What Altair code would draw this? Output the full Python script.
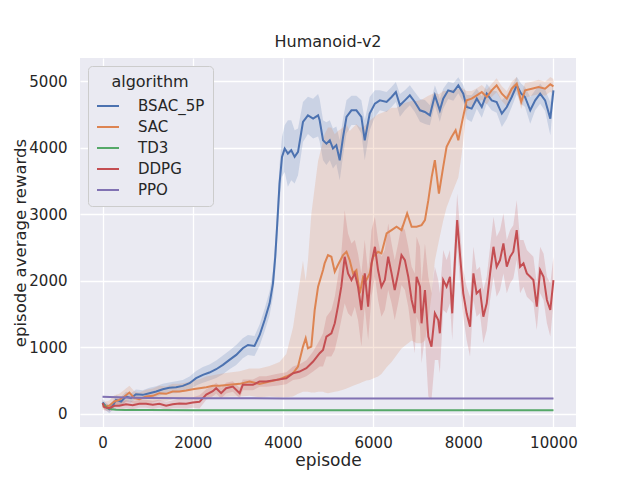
import altair as alt
import pandas as pd

algorithms = ["BSAC_5P", "SAC", "TD3", "DDPG", "PPO"]
colors = ["#4C72B0", "#DD8452", "#55A868", "#C44E52", "#8172B3"]

x_ticks = [0, 2000, 4000, 6000, 8000, 10000]
y_ticks = [0, 1000, 2000, 3000, 4000, 5000]

# ---- BSAC_5P (blue) ----
bsac_ep = [0, 75, 150, 225, 300, 410, 520, 630, 740, 890, 1040, 1190, 1335, 1480, 1630, 1780,
           1930, 2075, 2225, 2370, 2520, 2670, 2815, 2965, 3110, 3225, 3370, 3485, 3595, 3705,
           3780, 3830, 3875, 3925, 3980, 4040, 4110, 4185, 4260, 4335, 4445, 4555, 4670, 4780,
           4815, 4890, 4965, 5040, 5110, 5185, 5260, 5335, 5410, 5520, 5630, 5740, 5815, 5925,
           6040, 6150, 6300, 6410, 6505, 6595, 6705, 6815, 6925, 7040, 7150, 7260, 7370, 7480,
           7555, 7665, 7780, 7890, 8000, 8075, 8185, 8300, 8410, 8520, 8630, 8740, 8855, 8965,
           9075, 9185, 9285, 9370, 9485, 9595, 9705, 9815, 9930, 10000]
bsac_mean = [170, 110, 70, 120, 210, 185, 260, 235, 295, 285, 310, 335, 370, 390, 400, 420,
             460, 535, 585, 620, 670, 735, 810, 885, 985, 1035, 1020, 1185, 1410, 1660,
             1960, 2360, 2860, 3460, 3860, 3985, 3910, 3960, 3860, 3935, 4385, 4485, 4435, 4485,
             4410, 4110, 4060, 4110, 3985, 4035, 3810, 4160, 4460, 4560, 4560, 4460, 4110, 4510,
             4660, 4710, 4685, 4760, 4835, 4635, 4710, 4785, 4685, 4560, 4535, 4485, 4785, 4560,
             4735, 4860, 4835, 4935, 4810, 4610, 4585, 4735, 4610, 4810, 4710, 4685, 4510, 4610,
             4760, 4935, 4810, 4760, 4560, 4710, 4810, 4710, 4435, 4860]
bsac_spread = [60, 60, 60, 60, 70, 70, 70, 70, 70, 70, 80, 80, 80, 80, 90, 90,
               100, 110, 120, 120, 130, 140, 140, 150, 150, 150, 150, 160, 170, 180,
               200, 220, 250, 280, 300, 350, 500, 450, 400, 350, 300, 280, 300, 320,
               320, 300, 320, 300, 300, 280, 300, 280, 250, 220, 220, 250, 300, 250,
               200, 150, 150, 150, 150, 170, 150, 150, 150, 170, 180, 150, 150, 170,
               150, 130, 130, 120, 130, 180, 200, 150, 160, 150, 150, 160, 200, 180,
               150, 130, 150, 150, 200, 150, 150, 160, 250, 150]

# ---- SAC (orange) ----
sac_ep = [0, 150, 260, 370, 485, 595, 705, 815, 965, 1115, 1260, 1410, 1555, 1705, 1855, 2000,
          2150, 2300, 2450, 2595, 2815, 3040, 3260, 3480, 3705, 3925, 4075, 4225, 4335, 4445,
          4505, 4555, 4630, 4705, 4780, 4890, 4925, 5000, 5075, 5150, 5220, 5335, 5410, 5480,
          5555, 5630, 5705, 5780, 5850, 5925, 6000, 6110, 6185, 6300, 6410, 6520, 6630, 6755,
          6855, 6965, 7075, 7150, 7225, 7300, 7370, 7460, 7555, 7630, 7740, 7830, 7890, 7965,
          8075, 8185, 8300, 8410, 8520, 8630, 8740, 8855, 8965, 9075, 9185, 9285, 9370, 9520,
          9670, 9815, 9930, 10000]
sac_mean = [110, 120, 185, 210, 260, 320, 235, 220, 260, 270, 310, 300, 335, 335, 350, 370,
            385, 400, 420, 420, 435, 450, 485, 450, 485, 520, 560, 610, 710, 1010,
            1135, 985, 1010, 1560, 1910, 2160, 2260, 2385, 2360, 2135, 2235, 2385, 2435, 2310,
            2110, 2160, 1810, 2060, 2010, 2110, 2360, 2435, 2410, 2710, 2760, 2810, 2760, 3010,
            2810, 2810, 2835, 2910, 3210, 3560, 3810, 3310, 3710, 4010, 4160, 4260, 4110, 4360,
            4710, 4735, 4785, 4835, 4760, 4860, 4935, 4810, 4735, 4885, 4960, 4685, 4860, 4885,
            4910, 4885, 4950, 4920]
sac_lo = [60, 60, 100, 120, 160, 200, 140, 130, 160, 170, 200, 190, 220, 220, 230, 240,
          250, 250, 260, 250, 260, 260, 270, 250, 260, 250, 250, 260, 300, 330,
          330, 330, 320, 320, 330, 330, 320, 310, 320, 330, 340, 360, 380, 400,
          420, 440, 460, 480, 500, 510, 530, 560, 600, 700, 780, 880, 980, 1050,
          1100, 1060, 1060, 1100, 1400, 1800, 2300, 2600, 2900, 3100, 3300, 3450, 3550, 3900,
          4550, 4620, 4680, 4720, 4650, 4760, 4830, 4700, 4620, 4780, 4850, 4580, 4750, 4780,
          4800, 4780, 4840, 4810]
sac_hi = [170, 200, 280, 300, 360, 420, 340, 320, 360, 380, 420, 410, 450, 450, 470, 500,
          520, 560, 580, 600, 620, 640, 680, 680, 720, 780, 900, 1300, 1800, 2300,
          2000, 2300, 3000, 3400, 3800, 4100, 4200, 4300, 4300, 4200, 4250, 4300, 4350, 4250,
          4300, 4350, 4300, 4300, 4350, 4400, 4450, 4500, 4520, 4550, 4600, 4600, 4650, 4680,
          4700, 4700, 4720, 4750, 4780, 4800, 4820, 4800, 4850, 4850, 4870, 4880, 4880, 4900,
          4850, 4850, 4890, 4940, 4870, 4960, 5040, 4920, 4850, 4990, 5060, 4800, 4970, 4990,
          5020, 4990, 5060, 5030]

# ---- TD3 (green) ----
td3_ep = [0, 50, 100, 200, 300, 500, 1000, 2000, 4000, 6000, 8000, 10000]
td3_mean = [150, 120, 90, 70, 62, 58, 56, 55, 55, 55, 55, 55]
td3_spread = [40, 30, 20, 12, 10, 8, 8, 8, 8, 8, 8, 8]

# ---- DDPG (red) ----
ddpg_ep = [0, 40, 150, 260, 370, 520, 670, 815, 965, 1115, 1260, 1410, 1555, 1705, 1855, 2000,
           2150, 2300, 2445, 2520, 2630, 2740, 2890, 3040, 3110, 3335, 3480, 3630, 3855, 4075,
           4225, 4370, 4520, 4670, 4815, 4890, 4965, 5075, 5150, 5220, 5295, 5370, 5445, 5520,
           5595, 5665, 5740, 5815, 5890, 5965, 6040, 6110, 6185, 6260, 6335, 6410, 6480, 6555,
           6630, 6705, 6780, 6855, 6925, 6965, 7040, 7075, 7150, 7225, 7295, 7370, 7445, 7480,
           7555, 7630, 7705, 7755, 7815, 7865, 7925, 8000, 8075, 8150, 8225, 8295, 8370, 8445,
           8520, 8595, 8670, 8740, 8815, 8890, 8965, 9040, 9110, 9185, 9260, 9335, 9410, 9485,
           9555, 9630, 9705, 9780, 9855, 9930, 10000]
ddpg_mean = [160, 100, 85, 120, 120, 145, 130, 150, 150, 135, 150, 120, 145, 155, 150, 170,
             180, 290, 340, 385, 310, 385, 410, 310, 435, 435, 485, 485, 510, 535,
             610, 635, 685, 785, 910, 960, 1160, 1210, 1360, 1610, 1910, 2360, 2110, 2010,
             2110, 1910, 1560, 2110, 1610, 2260, 2510, 2160, 1910, 2010, 2360, 2110, 1860, 2110,
             2385, 2310, 2060, 1710, 1510, 2060, 1910, 1360, 1860, 1160, 1010, 1510, 1410, 1210,
             2010, 1910, 2060, 1510, 2310, 2910, 2410, 1810, 1510, 1310, 2110, 1810, 1860, 1460,
             1660, 2110, 2510, 2210, 2310, 2560, 2210, 2360, 2435, 2760, 2210, 2260, 2110, 2060,
             2010, 1610, 2160, 2060, 1710, 1560, 2010]
ddpg_spread = [50, 50, 50, 60, 60, 60, 60, 60, 60, 60, 60, 60, 60, 70, 70, 80,
               100, 80, 80, 80, 80, 80, 80, 80, 80, 80, 80, 80, 90, 90,
               100, 110, 120, 150, 200, 250, 300, 350, 400, 450, 500, 700, 600, 550,
               500, 500, 550, 500, 500, 500, 450, 450, 450, 450, 500, 450, 450, 450,
               450, 450, 450, 500, 600, 600, 600, 600, 700, 900, 800, 700, 600, 600,
               450, 400, 400, 400, 400, 400, 400, 350, 400, 450, 400, 350, 350, 400,
               400, 400, 450, 450, 450, 450, 400, 400, 400, 450, 400, 350, 350, 350,
               350, 350, 350, 350, 350, 400, 350]

# ---- PPO (purple) ----
ppo_ep = [0, 500, 1000, 2000, 4000, 6000, 8000, 10000]
ppo_mean = [255, 245, 238, 233, 232, 232, 232, 232]
ppo_spread = [12, 10, 8, 8, 8, 8, 8, 8]


def frame(name, ep, mean, lo, hi):
    return pd.DataFrame({"episode": ep, "reward": mean, "lo": lo, "hi": hi, "algorithm": name})


def sym(name, ep, mean, spread):
    return frame(name, ep, mean, [m - s for m, s in zip(mean, spread)],
                 [m + s for m, s in zip(mean, spread)])


df = pd.concat([
    sym("BSAC_5P", bsac_ep, bsac_mean, bsac_spread),
    frame("SAC", sac_ep, sac_mean, sac_lo, sac_hi),
    sym("TD3", td3_ep, td3_mean, td3_spread),
    sym("DDPG", ddpg_ep, ddpg_mean, ddpg_spread),
    sym("PPO", ppo_ep, ppo_mean, ppo_spread),
], ignore_index=True)

xscale = alt.Scale(domain=[-500, 10500], nice=False, zero=False)
yscale = alt.Scale(domain=[-198, 5346], nice=False, zero=False)
cscale = alt.Scale(domain=algorithms, range=colors)

legend = alt.Legend(title="algorithm", orient="none", legendX=8, legendY=8,
                    symbolType="stroke", symbolSize=484, symbolStrokeWidth=2,
                    symbolOpacity=1, direction="vertical")

xaxis = alt.Axis(values=x_ticks, title="episode", format="d")
yaxis = alt.Axis(values=y_ticks, title="episode average rewards", format="d")

base = alt.Chart(df)

bands = base.mark_area(opacity=0.2, interpolate="linear").encode(
    x=alt.X("episode:Q", scale=xscale, axis=xaxis),
    y=alt.Y("lo:Q", scale=yscale, axis=yaxis),
    y2="hi:Q",
    color=alt.Color("algorithm:N", scale=cscale, legend=legend),
)

lines = base.mark_line(strokeWidth=2).encode(
    x=alt.X("episode:Q", scale=xscale, axis=xaxis),
    y=alt.Y("reward:Q", scale=yscale, axis=yaxis),
    color=alt.Color("algorithm:N", scale=cscale, legend=legend),
    order="episode:Q",
)

chart = alt.layer(bands, lines).properties(
    width=496,
    height=369,
    title=alt.Title("Humanoid-v2", fontSize=16, font="DejaVu Sans", color="#262626",
                    fontWeight="normal", offset=8),
    padding={"left": 72, "top": 50, "right": 56, "bottom": 45},
    autosize=alt.AutoSizeParams(type="none"),
).configure(
    font="DejaVu Sans",
    background="white",
).configure_view(
    fill="#EAEAF2",
    stroke=None,
).configure_axis(
    domain=False,
    ticks=False,
    grid=True,
    gridColor="white",
    gridWidth=1.3,
    labelFont="DejaVu Sans",
    labelFontSize=15,
    labelColor="#262626",
    titleFont="DejaVu Sans",
    titleFontSize=17,
    titleFontWeight="normal",
    titleColor="#262626",
).configure_axisX(
    labelPadding=8,
    titlePadding=2,
).configure_axisY(
    labelPadding=13,
    titlePadding=0,
    titleFontSize=16.5,
).configure_legend(
    fillColor="#EAEAF2",
    strokeColor="#CCCCCC",
    cornerRadius=4,
    padding=8,
    titleFont="DejaVu Sans",
    titleFontSize=16,
    titleFontWeight="normal",
    titleColor="#262626",
    titleAnchor="middle",
    labelFont="DejaVu Sans",
    labelFontSize=15,
    labelColor="#262626",
    rowPadding=1,
    labelOffset=18,
    titlePadding=4,
)

chart.save("out.html", embed_options={"renderer": "svg", "actions": False})
